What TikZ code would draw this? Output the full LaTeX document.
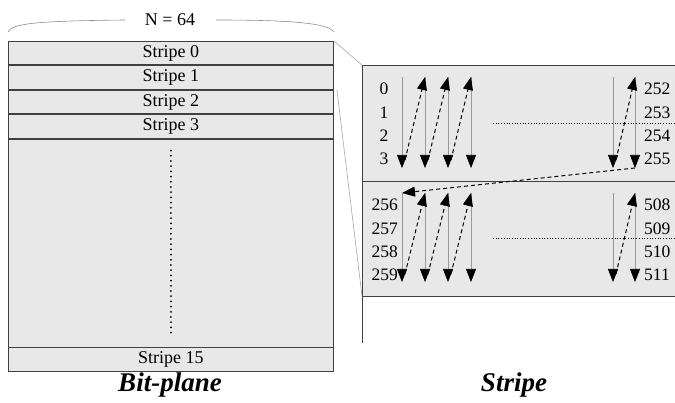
\documentclass[tikz,border=0pt]{standalone}
\usepackage{fontspec}
\setmainfont{Liberation Serif}
\usetikzlibrary{arrows.meta, positioning, calc}

\begin{document}
\begin{tikzpicture}[x=1pt,y=-1pt,
        stripebox/.style={draw=black!75, line width=0.9pt, fill=black!9, minimum width=325pt,
            minimum height=23.5pt, inner sep=0pt, anchor=north west, font=\fontsize{18}{20}\selectfont},
        scan/.style={draw=black!40, line width=0.6pt, -{Triangle[length=13pt,width=10pt,black]}},
        jump/.style={black, line width=1pt, dash pattern=on 4pt off 3pt, -{Triangle[length=13pt,width=10pt,black]}},
        num/.style={font=\fontsize{17.5}{19}\selectfont, inner sep=0pt},
        title/.style={font=\fontsize{27}{29}\selectfont\bfseries\itshape}]

        \useasboundingbox (0,0) rectangle (675,403);

        % Bit-plane: stripes
        \node[stripebox] (s0) at (8,41) {Stripe 0};
        \foreach \i [count=\j from 0] in {1,2,3}
            \node[stripebox, below=0pt of s\j] (s\i) {Stripe \i};
        \node[stripebox, minimum height=208pt, below=0pt of s3] (rest) {};
        \node[stripebox, below=0pt of rest] (s15) {Stripe 15};
        \draw[line width=2pt, line cap=round, dash pattern=on 0pt off 5.2pt]
            ($(rest.north)+(0,12)$) -- ($(rest.south)+(0,-14)$);

        % Width brace N = 64
        \node[font=\fontsize{18}{20}\selectfont] (N) at (170,20) {N = 64};
        \draw[black!45, line width=0.6pt] (s0.north west)+(0,-9) .. controls (12,24) and (30,21) .. (125,20);
        \draw[black!45, line width=0.6pt] (216,20) .. controls (300,20) and (328,24) .. ($(s0.north east)+(0,-9)$);

        % Stripe (zoomed)
        \coordinate (zt) at (362,65);
        \coordinate (zb) at (362,296);
        \fill[black!9] (zt) rectangle (675,296);
        \draw[black!75, line width=0.9pt] (675,65) -- (zt) -- (362,343);
        \draw[black!75, line width=0.9pt] (362,181) -- (675,181);
        \draw[black!75, line width=0.9pt] (zb) -- (675,296);

        % Zoom lines
        \draw[black!35, line width=0.6pt] (s0.north east) -- (zt);
        \draw[black!35, line width=0.6pt] ($(s2.north east)+(3,0)$) -- (zb);

        % Scan columns
        \foreach \x [count=\k] in {402,425,448,471,613,635} {
            \coordinate (ta\k) at (\x,77);
            \coordinate (ba\k) at (\x,168);
            \coordinate (tb\k) at (\x,193);
            \coordinate (bb\k) at (\x,282);
            \draw[scan] (ta\k) -- (ba\k);
            \draw[scan] (tb\k) -- (bb\k);
        }
        \foreach \k/\n in {1/2,2/3,3/4,5/6} {
            \draw[jump] ($(ba\k)+(3,-8)$) -- (ta\n);
            \draw[jump] ($(bb\k)+(3,-8)$) -- (tb\n);
        }
        \draw[jump] (ba6) -- (tb1);

        % Dotted continuation
        \draw[line width=0.7pt, dotted] (493,123) -- (675,123);
        \draw[line width=0.7pt, dotted] (493,238) -- (675,238);

        % Row numbers
        \foreach \r [count=\i from 0] in {89,113,136,159} {
            \node[num] (la\i) at (384,\r) {\i};
            \pgfmathtruncatemacro\m{252+\i}
            \node[num, anchor=west] (ra\i) at (644,\r) {\m};
            \pgfmathtruncatemacro\m{256+\i}
            \node[num, anchor=east] (lb\i) at (398,\r+116) {\m};
            \pgfmathtruncatemacro\m{508+\i}
            \node[num, anchor=west] (rb\i) at (644,\r+116) {\m};
        }

        % Titles
        \node[title] (tbp) at (170,385) {Bit-plane};
        \node[title] (tst) at (514,385) {Stripe};

\end{tikzpicture}
\end{document}
